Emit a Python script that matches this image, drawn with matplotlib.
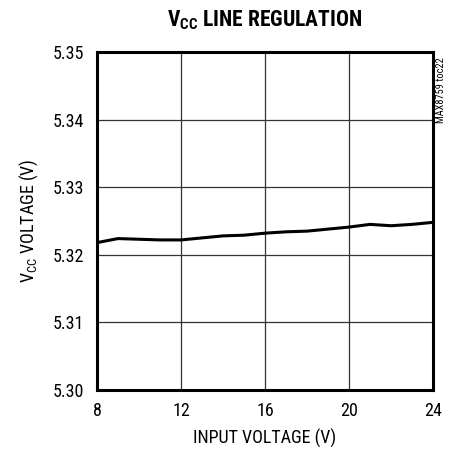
import matplotlib.pyplot as plt
from matplotlib import font_manager
import numpy as np

# input voltage (V) vs Vcc (V)
vin = [8, 9, 10, 11, 12, 13, 14, 15, 16, 17, 18, 19, 20, 21, 22, 23, 24]
vcc = [5.3218, 5.3224, 5.3223, 5.3222, 5.3222, 5.3225, 5.3228, 5.3229, 5.3232,
       5.3234, 5.3235, 5.3238, 5.3241, 5.3245, 5.3243, 5.3245, 5.3248]

xticks = [8, 12, 16, 20, 24]
yticks = [5.30, 5.31, 5.32, 5.33, 5.34, 5.35]

names = {f.name for f in font_manager.fontManager.ttflist}
narrow = 'DejaVu Sans'
for cand in ['Roboto Condensed', 'Liberation Sans Narrow', 'Open Sans Condensed',
             'Liberation Sans']:
    if cand in names:
        narrow = cand
        break
plt.rcParams['font.family'] = [narrow, 'DejaVu Sans']
plt.rcParams['mathtext.fontset'] = 'custom'
plt.rcParams['mathtext.rm'] = narrow
plt.rcParams['mathtext.bf'] = narrow + ':bold'

fig = plt.figure(figsize=(4.5, 4.54), dpi=100)
ax = fig.add_axes([97/450, 1 - 390/454, 336/450, 338/454])

ax.plot(vin, vcc, color='black', lw=2.2)
ax.set_xlim(8, 24)
ax.set_ylim(5.30, 5.35)
ax.set_xticks(xticks)
ax.set_yticks(yticks)
ax.set_yticklabels(['%.2f' % v for v in yticks])
ax.tick_params(length=0, labelsize=13, pad=9)
ax.grid(color='#333333', lw=0.9)
for s in ax.spines.values():
    s.set_linewidth(2.2)

ax.set_xlabel('INPUT VOLTAGE (V)', fontsize=13, labelpad=6)
ax.set_ylabel(r'V$_{\mathrm{CC}}$ VOLTAGE (V)', fontsize=13, labelpad=9)
fig.text(265/450, 1 - 20/454, r'V$_{\mathbf{CC}}$ LINE REGULATION', ha='center', va='center',
         fontsize=15.5, fontweight='bold')
fig.text(441/450, 1 - 90/454, 'MAX8759 toc22', rotation=90, ha='center', va='center',
         fontsize=7.5)

fig.savefig('out.png', dpi=100)
